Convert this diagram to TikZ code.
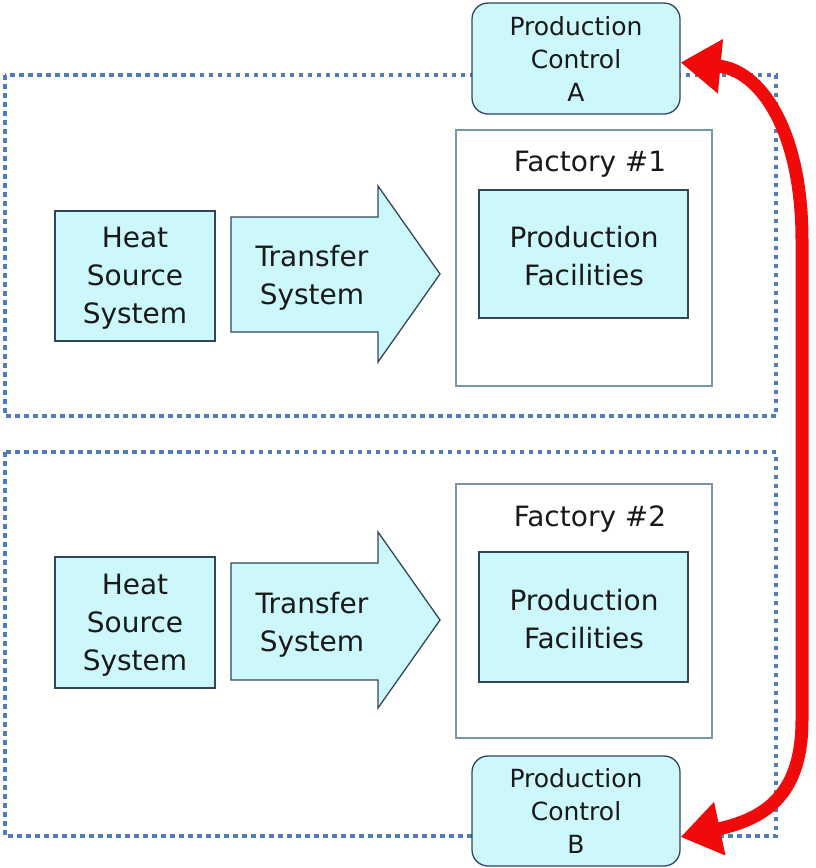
\documentclass[tikz,border=0pt]{standalone}
\usepackage{fontspec}
\setmainfont{DejaVu Sans}
\usetikzlibrary{arrows.meta,calc}
\definecolor{cyanfill}{RGB}{204,247,251}
\definecolor{boxline}{RGB}{50,70,90}
\definecolor{factline}{RGB}{120,150,165}
\definecolor{dotblue}{RGB}{80,125,185}
\definecolor{arrowred}{RGB}{240,10,10}
\tikzset{
  x=1pt, y=-1pt,
  bigtext/.style={font=\fontsize{28}{38}\selectfont, align=center, text=black!90},
  smalltext/.style={font=\fontsize{25}{33}\selectfont, align=center, text=black!90},
  cyanbox/.style={draw=boxline, line width=1.3pt, fill=cyanfill, inner sep=0pt},
  ctrlbox/.style={cyanbox, rounded corners=16pt},
  factbox/.style={draw=factline, line width=1.2pt, fill=white},
  dotframe/.style={draw=dotblue, line width=4.5pt, dash pattern=on 4.5pt off 4.5pt},
  linkarrow/.style={draw=arrowred, line width=13pt, {Triangle[length=40pt,width=52pt]}-{Triangle[length=40pt,width=52pt]}}
}
\begin{document}
\begin{tikzpicture}
\useasboundingbox (0,0) rectangle (816,868);

% dotted plant frames
\draw[dotframe] (5,75) rectangle (776,416);
\draw[dotframe] (5,452) rectangle (776,836);

% ---------- plant 1 ----------
\draw[factbox] (456,130) rectangle (712,386);
\node[bigtext] (f1) at (590,164) {Factory \#1};
\draw[cyanbox] (479,190) rectangle (688,318);
\node[bigtext] (pf1) at (584,256) {Production\\Facilities};
\draw[cyanbox] (55,211) rectangle (215,341);
\node[bigtext] (hs1) at (135,278.5) {Heat\\Source\\System};
\draw[cyanbox, line join=miter] (231,217) -- (378,217) -- (378,186) -- (440,274) -- (378,362) -- (378,332) -- (231,332) -- cycle;
\node[bigtext] (ts1) at (312,277.5) {Transfer\\System};

% ---------- plant 2 ----------
\draw[factbox] (456,484) rectangle (712,738);
\node[bigtext] (f2) at (590,519) {Factory \#2};
\draw[cyanbox] (479,552) rectangle (688,682);
\node[bigtext] (pf2) at (584,619) {Production\\Facilities};
\draw[cyanbox] (55,557) rectangle (215,688);
\node[bigtext] (hs2) at (135,625.5) {Heat\\Source\\System};
\draw[cyanbox, line join=miter] (231,563) -- (378,563) -- (378,532) -- (440,620) -- (378,708) -- (378,680) -- (231,680) -- cycle;
\node[bigtext] (ts2) at (312,624.5) {Transfer\\System};

% ---------- production control ----------
\node[ctrlbox, smalltext, minimum width=208pt, minimum height=111pt] (pcA) at (576,58.5) {Production\\Control\\A};
\node[ctrlbox, smalltext, minimum width=208pt, minimum height=110pt] (pcB) at (576,811) {Production\\Control\\B};

% link between the two control units
\coordinate (ea) at ($(pcA.east)+(0,4)$);
\coordinate (eb) at ($(pcB.east)+(0,26)$);
\draw[linkarrow] (ea) .. controls (760,70) and (802,130) .. (802,240) -- (802,720) .. controls (802,790) and (770,818) .. (eb);
\end{tikzpicture}
\end{document}
